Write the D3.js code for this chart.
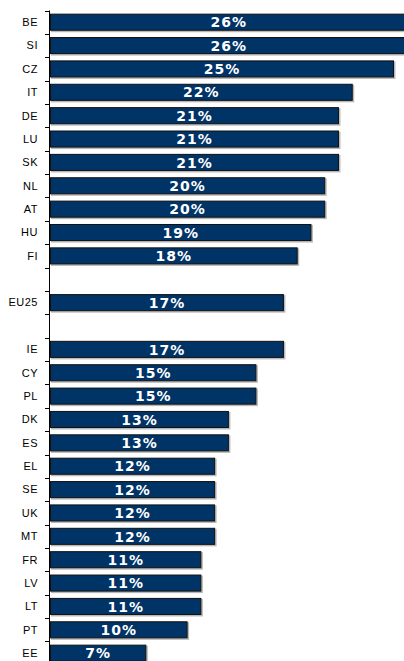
<!DOCTYPE html>
<html>
<head>
<meta charset="utf-8">
<script src="https://cdn.jsdelivr.net/npm/d3@7"></script>
<style>
  body { margin: 0; background: #fff; overflow: hidden; }
</style>
</head>
<body>
<svg id="bars" width="404" height="661"></svg>
<script>
// slots top to bottom, blank slots are gaps around EU25
let countries = ['BE', 'SI', 'CZ', 'IT', 'DE', 'LU', 'SK', 'NL', 'AT', 'HU', 'FI', '', 'EU25', ' ', 'IE', 'CY', 'PL', 'DK', 'ES', 'EL', 'SE', 'UK', 'MT', 'FR', 'LV', 'LT', 'PT', 'EE']
let shares = [26, 26, 25, 22, 21, 21, 21, 20, 20, 19, 18, null, 17, null, 17, 15, 15, 13, 13, 12, 12, 12, 12, 11, 11, 11, 10, 7]
let labels = shares.map(function (v) { return v == null ? '' : v + '%' })

let data = countries.map(function (c, i) {
    return {name: c, value: shares[i], label: labels[i]}
})

let svg = d3.select('#bars')
let margin = {top: 10.5, left: 50}

let y = d3.scaleBand()
    .domain(countries)
    .range([margin.top, margin.top + 23.37 * countries.length])
    .paddingInner(0.27)
    .paddingOuter(0.135)

let x = d3.scaleLinear()
    .domain([0, 25])
    .range([margin.left, 394])

// axis line and ticks at band boundaries
let axis = svg.append('g')
axis.append('line')
    .attr('x1', margin.left - 0.5).attr('x2', margin.left - 0.5)
    .attr('y1', margin.top).attr('y2', 661)
    .attr('stroke', '#000').attr('stroke-width', 1)
let step = y.step()
axis.selectAll('.tk')
    .data(d3.range(countries.length + 1))
    .enter().append('line')
    .attr('x1', margin.left - 5).attr('x2', margin.left)
    .attr('y1', function (d) { return Math.round(margin.top + d * step) + 0.5 })
    .attr('y2', function (d) { return Math.round(margin.top + d * step) + 0.5 })
    .attr('stroke', '#000')

// category labels
svg.selectAll('.cat')
    .data(data)
    .enter().append('text')
    .attr('x', 38)
    .attr('y', function (d) { return y(d.name) + y.bandwidth() / 2 })
    .attr('dy', '0.35em')
    .attr('text-anchor', 'end')
    .style('font-family', 'Liberation Sans, Arial, sans-serif')
    .style('font-size', '11px')
    .style('letter-spacing', '0.5px')
    .text(function (d) { return d.name.trim() })

let valued = data.filter(function (d) { return d.value != null })

// light shadow behind each bar
svg.selectAll('.shadow')
    .data(valued)
    .enter().append('rect')
    .attr('x', x(0) + 1)
    .attr('y', function (d) { return y(d.name) + 1 })
    .attr('width', function (d) { return x(d.value) - x(0) + 0.5 })
    .attr('height', y.bandwidth() + 0.5)
    .style('fill', '#b8b8b8')

svg.selectAll('.bar')
    .data(valued)
    .enter().append('rect')
    .attr('x', x(0) + 0.5)
    .attr('y', function (d) { return y(d.name) + 0.5 })
    .attr('width', function (d) { return x(d.value) - x(0) - 1 })
    .attr('height', y.bandwidth() - 1)
    .style('fill', '#003366')
    .style('stroke', '#111')
    .style('stroke-width', 1)

svg.selectAll('.val')
    .data(valued)
    .enter().append('text')
    .attr('x', function (d) { return (x(0) + x(d.value)) / 2 })
    .attr('y', function (d) { return y(d.name) + y.bandwidth() / 2 })
    .attr('dy', '0.37em')
    .attr('text-anchor', 'middle')
    .style('font-family', 'DejaVu Sans, Verdana, sans-serif')
    .style('font-weight', 'bold')
    .style('font-size', '14px')
    .style('letter-spacing', '1px')
    .style('fill', '#fff')
    .text(function (d) { return d.label })
</script>
</body>
</html>
